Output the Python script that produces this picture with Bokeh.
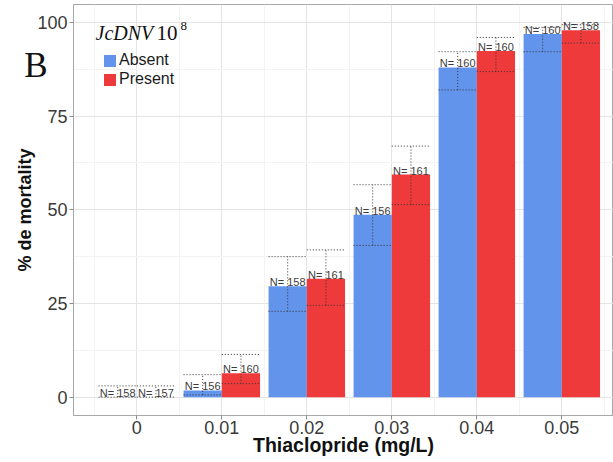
from bokeh.plotting import figure
from bokeh.models import (ColumnDataSource, Range1d, FixedTicker, Label,
                          Legend, LegendItem, LinearAxis)
from bokeh.core.properties import value
from bokeh.transform import dodge
from bokeh.embed import file_html
from bokeh.resources import INLINE

# ---- data ----
doses = [0, 0.01, 0.02, 0.03, 0.04, 0.05]
x_tick_labels = ["0", "0.01", "0.02", "0.03", "0.04", "0.05"]
y_ticks = [0, 25, 50, 75, 100]
series_names = ["Absent", "Present"]

absent_mortality = [0.0, 1.8, 29.6, 48.7, 88.0, 96.9]
absent_lower = [0.0, 0.6, 22.9, 40.5, 82.0, 92.2]
absent_upper = [3.0, 6.0, 37.5, 56.7, 92.2, 98.7]
absent_n = [158, 156, 158, 156, 160, 160]

present_mortality = [0.0, 6.4, 31.6, 59.4, 92.4, 97.9]
present_lower = [0.0, 3.6, 24.5, 51.4, 86.9, 94.5]
present_upper = [3.0, 11.4, 39.3, 67.0, 96.0, 99.4]
present_n = [157, 160, 161, 161, 160, 158]

panel_tag = "B"
panel_tag_y = 88.5

colors = ["#6394EB", "#EE3A3B"]

# ---- layout constants ----
step = 0.01
bar_w = 0.9 * step / 2

p = figure(width=613, height=462,
           x_range=Range1d(-0.00745, 0.05608),
           y_range=Range1d(-4.9, 104.8),
           output_backend="svg", toolbar_location=None,
           min_border_left=73, min_border_right=0,
           min_border_top=4, min_border_bottom=47)

p.background_fill_color = "white"
p.border_fill_color = "white"
p.outline_line_color = "#a8a8a8"
p.outline_line_width = 1

# grids
p.xgrid.ticker = FixedTicker(ticks=doses,
                             minor_ticks=[d - step / 2 for d in doses] + [doses[-1] + step / 2])
p.ygrid.ticker = FixedTicker(ticks=y_ticks,
                             minor_ticks=[(a + b) / 2 for a, b in zip(y_ticks[:-1], y_ticks[1:])])
for g in (p.xgrid, p.ygrid):
    g.grid_line_color = "#e4e4e4"
    g.grid_line_width = 1
    g.minor_grid_line_color = "#f3f3f3"
    g.minor_grid_line_width = 1

# axes
xax = p.xaxis[0]
yax = p.yaxis[0]
xax.ticker = FixedTicker(ticks=doses)
xax.major_label_overrides = {d: s for d, s in zip(doses, x_tick_labels)}
yax.ticker = FixedTicker(ticks=y_ticks)
for ax in (xax, yax):
    ax.axis_line_color = "#a8a8a8"
    ax.major_tick_line_color = "#8c8c8c"
    ax.major_tick_in = 0
    ax.major_tick_out = 4
    ax.minor_tick_line_color = None
    ax.major_label_text_font = "Liberation Sans"
    ax.major_label_text_font_size = "18px"
    ax.major_label_text_color = "#3a3a3a"
xax.major_label_standoff = 1
xax.axis_label = "Thiaclopride (mg/L)"
xax.axis_label_text_font = "Liberation Sans"
xax.axis_label_text_font_style = "bold"
xax.axis_label_text_font_size = "19.5px"
xax.axis_label_text_color = "#111111"
xax.axis_label_standoff = -3
yax.major_label_standoff = 2

# outer left axis: carries the panel tag and the y title
tag_axis = LinearAxis(ticker=FixedTicker(ticks=[panel_tag_y]),
                      major_label_overrides={panel_tag_y: panel_tag},
                      axis_line_color=None, major_tick_line_color=None,
                      minor_tick_line_color=None,
                      major_tick_in=0, major_tick_out=0,
                      major_label_standoff=-13,
                      major_label_text_font="Liberation Serif",
                      major_label_text_font_size="35px",
                      major_label_text_color="#111111",
                      axis_label="% de mortality",
                      axis_label_text_font="Liberation Sans",
                      axis_label_text_font_style="bold",
                      axis_label_text_font_size="18px",
                      axis_label_text_color="#111111",
                      axis_label_standoff=-14)
p.add_layout(tag_axis, "left")

# ---- bars, labels, error bars ----
sources = [
    ColumnDataSource(dict(dose=doses, mort=absent_mortality, lo=absent_lower,
                          hi=absent_upper, lab=[f"N= {n}" for n in absent_n])),
    ColumnDataSource(dict(dose=doses, mort=present_mortality, lo=present_lower,
                          hi=present_upper, lab=[f"N= {n}" for n in present_n])),
]
offsets = [-bar_w / 2, bar_w / 2]

bar_renderers = []
for src, off, col in zip(sources, offsets, colors):
    r = p.vbar(x=dodge("dose", off), top="mort", bottom=0, width=bar_w,
               source=src, fill_color=col, line_color=None)
    bar_renderers.append(r)

for src, off in zip(sources, offsets):
    p.text(x=dodge("dose", off), y="mort", text="lab", source=src,
           text_align="center", text_baseline="alphabetic", y_offset=-4,
           text_font=value("Liberation Sans"), text_font_size=value("11px"),
           text_color="#3c3c3c")

for src, off in zip(sources, offsets):
    for fld in ("lo", "hi"):
        p.segment(x0=dodge("dose", off - bar_w / 2), x1=dodge("dose", off + bar_w / 2),
                  y0=fld, y1=fld, source=src, line_color="#333333",
                  line_width=1, line_dash="1 2")
    p.segment(x0=dodge("dose", off), x1=dodge("dose", off), y0="lo", y1="hi",
              source=src, line_color="#333333", line_width=1, line_dash="1 2")

# ---- legend (one box per entry, stacked) ----
for name, r, ly in zip(series_names, bar_renderers, [346, 327]):
    lg = Legend(items=[LegendItem(label=name, renderers=[r])],
                location=(29, ly), orientation="vertical",
                glyph_width=15, glyph_height=15, label_height=15,
                label_standoff=2, spacing=0, padding=0, margin=0,
                border_line_color=None, background_fill_alpha=0,
                label_text_font="Liberation Sans", label_text_font_size="16px",
                label_text_color="#1a1a1a")
    p.add_layout(lg)

# ---- virus annotation ----
p.add_layout(Label(x=22, y=383, x_units="screen", y_units="screen", text="JcDNV",
                   text_font="Liberation Serif", text_font_style="italic",
                   text_font_size="20px", text_color="#111111",
                   text_baseline="alphabetic"))
p.add_layout(Label(x=83, y=383, x_units="screen", y_units="screen", text="10",
                   text_font="Liberation Serif", text_font_size="21px",
                   text_color="#111111", text_baseline="alphabetic"))
p.add_layout(Label(x=107, y=390, x_units="screen", y_units="screen", text="8",
                   text_font="Liberation Serif", text_font_size="13px",
                   text_color="#111111", text_baseline="alphabetic"))

open("out.html", "w").write(file_html(p, INLINE))
